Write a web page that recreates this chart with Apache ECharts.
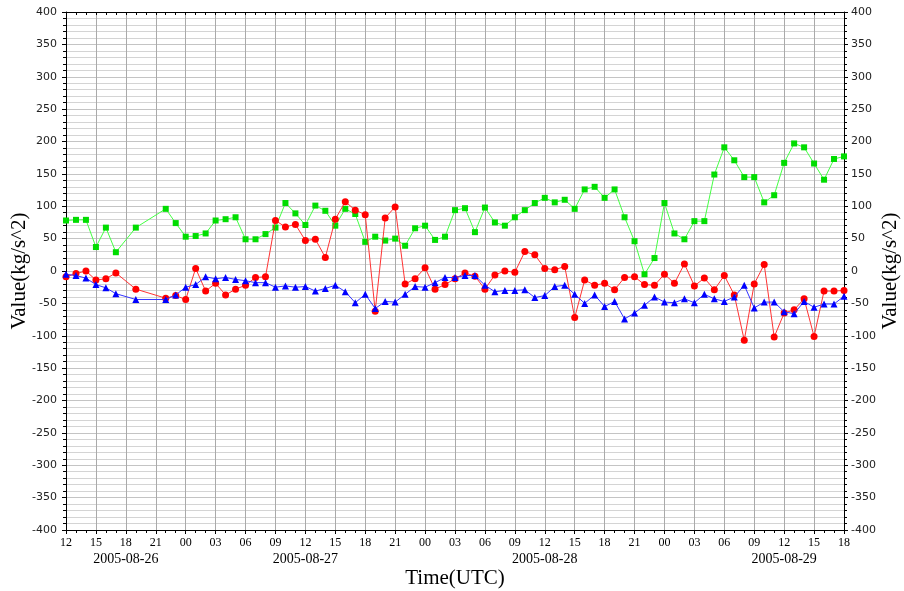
<!DOCTYPE html>
<html><head><meta charset="utf-8">
<script src="https://cdn.jsdelivr.net/npm/echarts@6/dist/echarts.min.js"></script>
<style>html,body{margin:0;padding:0;background:#fff}#c{width:904px;height:591px}</style>
</head><body><div id="c"></div>
<script>
// hours since 2005-08-26 12:00 UTC
const hours = [0,1,2,3,4,5,7,10,11,12,13,14,15,16,17,18,19,20,21,22,23,24,25,26,27,28,29,30,
  31,32,33,34,35,36,37,38,39,40,41,42,43,44,45,46,47,48,49,50,51,52,53,54,55,56,57,58,59,60,
  61,62,63,64,65,66,67,68,69,70,71,72,73,74,75,76,77,78];
const green = [78,79,79,37,67,29,67,96,74,53,54,58,78,80,83,49,49,57,67,105,89,71,101,93,70,96,88,45,
  53,47,50,39,66,70,48,53,94,97,60,98,75,70,83,94,105,113,106,110,96,126,130,113,126,83,46,-5,20,105,
  58,49,77,77,149,191,171,145,145,106,117,167,197,191,166,141,173,177];
const red = [-9,-4,0,-14,-12,-3,-28,-42,-38,-44,4,-31,-19,-37,-28,-22,-10,-9,78,68,72,47,49,21,80,107,94,87,
  -62,82,99,-20,-12,5,-28,-21,-12,-3,-8,-28,-6,0,-2,30,25,4,2,7,-72,-14,-22,-19,-29,-10,-9,-21,-22,-5,
  -19,11,-23,-11,-29,-7,-37,-107,-20,10,-102,-65,-60,-43,-101,-31,-31,-30];
const blue = [-5,-7,-11,-21,-26,-35,-44,-44,-37,-25,-21,-9,-12,-10,-13,-15,-18,-18,-25,-23,-25,-24,-31,-27,-22,-32,-49,-36,
  -58,-47,-48,-36,-24,-25,-18,-10,-10,-7,-7,-22,-32,-30,-30,-29,-41,-38,-24,-22,-36,-50,-37,-55,-47,-74,-65,-53,-40,-48,
  -49,-43,-49,-36,-43,-47,-40,-22,-57,-48,-48,-63,-66,-47,-56,-51,-51,-39];
const xTickLabels = ['12','15','18','21','00','03','06','09','12','15','18','21','00','03','06','09',
  '12','15','18','21','00','03','06','09','12','15','18'];
const dateLabels = ['2005-08-26','2005-08-27','2005-08-28','2005-08-29'];
const dateLabelHours = [6,24,48,72];

const chart = echarts.init(document.getElementById('c'));
const pair = arr => hours.map((h, i) => [h, arr[i]]);
const serif = 'Liberation Serif';
const sans = 'DejaVu Sans';
const yBase = {
  type: 'value', min: -400, max: 400, interval: 50,
  axisLine: {show: true, onZero: false, lineStyle: {color: '#000', width: 1}},
  axisTick: {show: true, inside: false, length: 4, lineStyle: {color: '#000'}},
  minorTick: {show: true, splitNumber: 5, length: 3, lineStyle: {color: '#000'}},
  axisLabel: {fontFamily: sans, fontSize: 11, color: '#222', margin: 9},
  name: 'Value(kg/s^2)', nameLocation: 'middle', nameGap: 36, nameMoveOverlap: false,
  nameTextStyle: {fontFamily: serif, fontSize: 21, color: '#000'}
};
chart.setOption({
  animation: false,
  backgroundColor: '#fff',
  grid: {left: 66, right: 60, top: 12, bottom: 61, containLabel: false, outerBoundsMode: 'none'},
  xAxis: [
    {type: 'value', min: 0, max: 78, interval: 3, position: 'bottom',
     axisLine: {onZero: false, lineStyle: {color: '#000'}},
     axisTick: {length: 4, lineStyle: {color: '#000'}},
     minorTick: {show: true, splitNumber: 3, length: 3, lineStyle: {color: '#000'}},
     axisLabel: {fontFamily: serif, fontSize: 12, color: '#000', margin: 7,
       formatter: v => xTickLabels[Math.round(v / 3)]},
     splitLine: {show: true, lineStyle: {color: '#aaaaaa'}},
     name: 'Time(UTC)', nameLocation: 'middle', nameGap: 38,
     nameTextStyle: {fontFamily: serif, fontSize: 21, color: '#000'}},
    {type: 'value', min: 0, max: 78, position: 'bottom', offset: 14,
     axisLine: {show: false, onZero: false}, axisTick: {show: false}, splitLine: {show: false},
     axisLabel: {customValues: dateLabelHours, fontFamily: serif, fontSize: 14, color: '#000',
       formatter: v => { let k = 0; dateLabelHours.forEach((d, i) => { if (Math.abs(d - v) < 0.01) k = i; }); return dateLabels[k]; }}},
    {type: 'value', min: 0, max: 78, interval: 1, position: 'top',
     axisLine: {onZero: false, lineStyle: {color: '#000'}},
     axisTick: {inside: true, length: 3, lineStyle: {color: '#000'}},
     axisLabel: {show: false}, splitLine: {show: false}}
  ],
  yAxis: [
    Object.assign({}, yBase, {position: 'left',
      splitLine: {show: true, lineStyle: {color: '#c4c4c4'}},
      minorSplitLine: {show: true, lineStyle: {color: '#d4d4d4'}}}),
    Object.assign({}, yBase, {position: 'right', splitLine: {show: false},
      axisLabel: {fontFamily: sans, fontSize: 11, color: '#222', margin: 7}})
  ],
  series: [
    {name: 'green', type: 'line', data: pair(green), symbol: 'rect', symbolSize: 6,
     itemStyle: {color: '#00dd00'}, lineStyle: {color: '#44ff44', width: 1}, z: 2},
    {name: 'red', type: 'line', data: pair(red), symbol: 'circle', symbolSize: 7,
     itemStyle: {color: '#ff0000'}, lineStyle: {color: '#ff3333', width: 1}, z: 3},
    {name: 'blue', type: 'line', data: pair(blue), symbol: 'triangle', symbolSize: 7,
     itemStyle: {color: '#0000ff'}, lineStyle: {color: '#3333ff', width: 1}, z: 4}
  ]
});
</script></body></html>
